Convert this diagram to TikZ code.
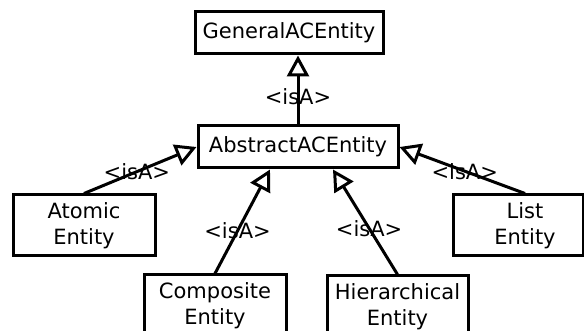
\documentclass[tikz,border=0pt]{standalone}
\usepackage{fontspec}
\setmainfont{DejaVu Sans}
\usetikzlibrary{arrows.meta}
\begin{document}
\begin{tikzpicture}[x=1pt,y=-1pt,
  every node/.style={font=\fontsize{21}{26}\selectfont},
  box/.style={draw, line width=3pt, inner sep=0pt, align=center},
  isa/.style={line width=3pt, -{Triangle[open, length=21pt, width=22pt, line width=3pt]}},
  lbl/.style={inner sep=0pt}]
\useasboundingbox (0,0) rectangle (584,331);

% classes
\node[box, minimum width=188, minimum height=42] (gen) at (289,33) {GeneralACEntity};
\node[box, minimum width=200, minimum height=42] (abs) at (298,147) {AbstractACEntity};
\node[box, minimum width=142, minimum height=61] (atomic) at (84,225.5) {Atomic\\Entity};
\node[box, minimum width=142, minimum height=62] (comp) at (215,306) {Composite\\Entity};
\node[box, minimum width=141, minimum height=62] (hier) at (397.5,307) {Hierarchical\\Entity};
\node[box, minimum width=130, minimum height=61] (listbox) at (518,225.5) {};
\node[inner sep=0pt, align=center] (list) at (525,225.5) {List\\Entity};

% generalisation links
\draw[isa] (abs.north) -- node[lbl, pos=0.4] {<isA>} (abs.north |- gen.south);
\draw[isa] (atomic.north) -- node[lbl, pos=0.47] {<isA>} (abs.west);
\draw[isa] (comp.north) -- node[lbl, pos=0.41] {<isA>} ([xshift=-28pt]abs.south);
\draw[isa] (hier.north) -- node[lbl, pos=0.44] {<isA>} ([xshift=35pt]abs.south);
\draw[isa] (list |- listbox.north) -- node[lbl, pos=0.48] {<isA>} (abs.east);
\end{tikzpicture}
\end{document}
